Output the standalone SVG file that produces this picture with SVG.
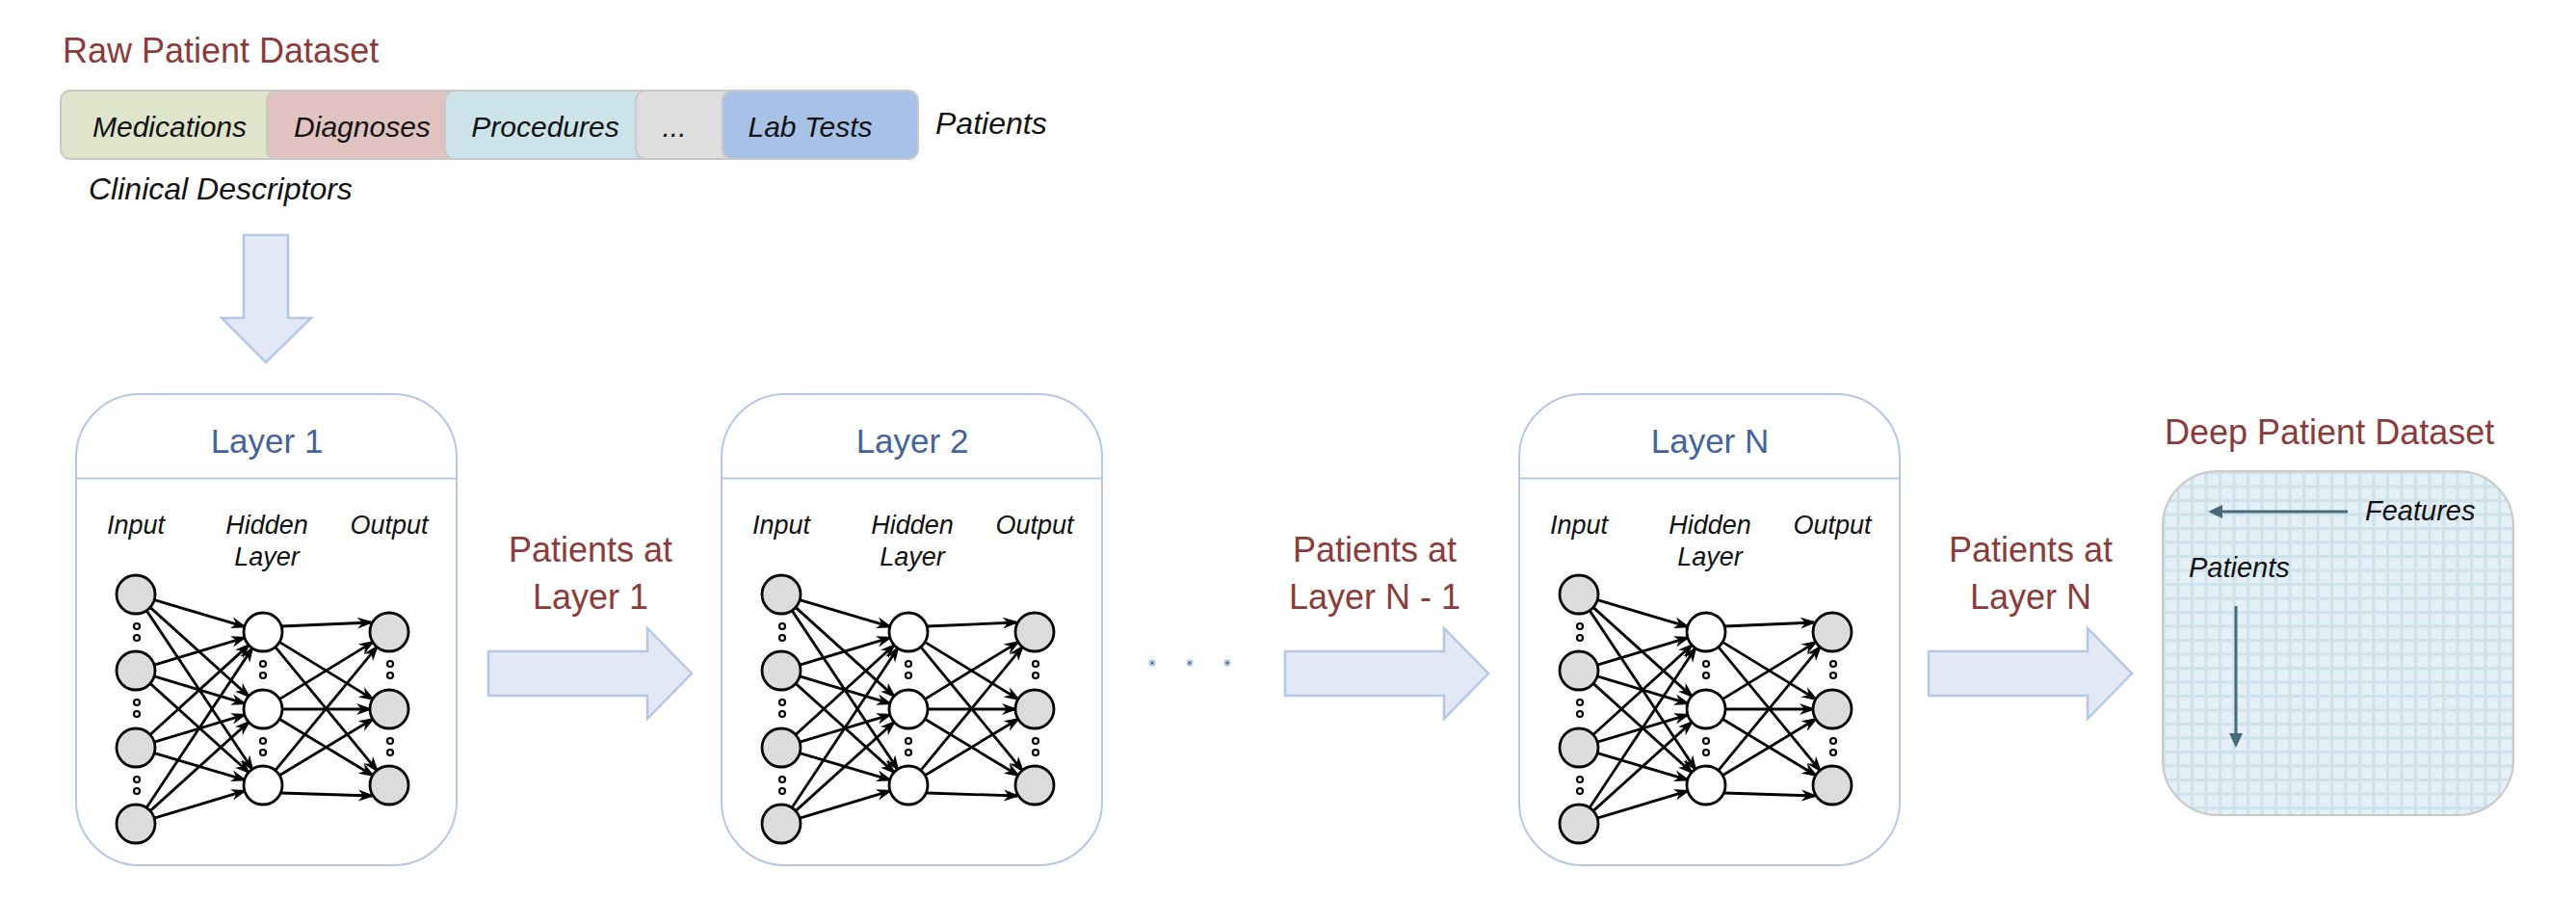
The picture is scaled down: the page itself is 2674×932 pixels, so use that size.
<svg xmlns="http://www.w3.org/2000/svg" xmlns:xlink="http://www.w3.org/1999/xlink" width="2674" height="932" viewBox="0 0 2674 932">
<style>
  text { font-family: "Liberation Sans", Arial, sans-serif; }
  .title { font-size: 36px; fill: #8a3b3a; }
  .lbl { font-size: 36px; fill: #8a3b3a; text-anchor: middle; }
  .seg { font-size: 30px; font-style: italic; fill: #111; text-anchor: middle; }
  .it { font-size: 32px; font-style: italic; fill: #111; }
  .ltitle { font-size: 35px; fill: #44639b; text-anchor: middle; }
  .nl { font-size: 27px; font-style: italic; fill: #111; text-anchor: middle; }
  .box { fill: #ffffff; stroke: #b4c7e7; stroke-width: 2; }
  .div { stroke: #b4c7e7; stroke-width: 2; }
  .barrow { fill: #e2e9f4; stroke: #b4c7e7; stroke-width: 2.5; stroke-linejoin: miter; }
  .segbox { stroke: #c9c9c9; stroke-width: 2; }
  .e { stroke: #000; stroke-width: 2.8; fill: none; marker-end: url(#ah); }
  .gn { fill: #dcdcdc; stroke: #000; stroke-width: 2.8; }
  .wn { fill: #ffffff; stroke: #000; stroke-width: 2.8; }
  .dot { fill: #ffffff; stroke: #000; stroke-width: 2.2; }
  .dp { stroke: #47697a; stroke-width: 3; fill: none; }
</style>
<defs>
  <marker id="ah" markerUnits="userSpaceOnUse" markerWidth="18" markerHeight="13" refX="14" refY="6" orient="auto" viewBox="0 0 18 12">
    <path d="M0,0 L17,6 L0,12 L5,6 Z" fill="#000"/>
  </marker>
  <pattern id="grid" patternUnits="userSpaceOnUse" x="2245" y="489" width="14.5" height="14.5">
    <rect x="0" y="0" width="14.5" height="14.5" fill="#cde2eb"/>
    <rect x="3" y="3" width="11.5" height="11.5" fill="#e4eff6"/>
  </pattern>
  <g id="net">
    <path class="e" d="M160.2,622.7 L253.8,650.3"/>
    <path class="e" d="M155.9,630.4 L258.1,722.6"/>
    <path class="e" d="M152.1,633.6 L261.9,798.4"/>
    <path class="e" d="M160.1,690.2 L253.9,661.8"/>
    <path class="e" d="M160.1,701.8 L253.9,730.2"/>
    <path class="e" d="M155.9,709.4 L258.1,801.6"/>
    <path class="e" d="M155.8,762.5 L258.2,669.5"/>
    <path class="e" d="M160.1,770.2 L253.9,741.8"/>
    <path class="e" d="M160.2,781.7 L253.8,809.3"/>
    <path class="e" d="M152.1,838.3 L261.9,672.7"/>
    <path class="e" d="M155.9,841.6 L258.1,749.4"/>
    <path class="e" d="M160.1,849.2 L253.9,820.8"/>
    <path class="e" d="M292,650 L385,646"/>
    <path class="e" d="M290.1,666.4 L386.9,725.6"/>
    <path class="e" d="M285.7,671.4 L391.3,799.6"/>
    <path class="e" d="M290.1,725.6 L386.9,666.4"/>
    <path class="e" d="M293,736 L384,736"/>
    <path class="e" d="M290.1,746.3 L386.9,804.7"/>
    <path class="e" d="M285.7,799.6 L391.3,671.4"/>
    <path class="e" d="M290.1,804.7 L386.9,746.3"/>
    <path class="e" d="M292,823 L386,826"/>
    <circle class="gn" cx="141" cy="617" r="20"/>
    <circle class="gn" cx="141" cy="696" r="20"/>
    <circle class="gn" cx="141" cy="776" r="20"/>
    <circle class="gn" cx="141" cy="855" r="20"/>
    <circle class="wn" cx="273" cy="656" r="20"/>
    <circle class="wn" cx="273" cy="736" r="20"/>
    <circle class="wn" cx="273" cy="815" r="20"/>
    <circle class="gn" cx="404" cy="656" r="20"/>
    <circle class="gn" cx="404" cy="736" r="20"/>
    <circle class="gn" cx="404" cy="815" r="20"/>
    <circle class="dot" cx="142" cy="650" r="3"/>
    <circle class="dot" cx="142" cy="662" r="3"/>
    <circle class="dot" cx="142" cy="729" r="3"/>
    <circle class="dot" cx="142" cy="741" r="3"/>
    <circle class="dot" cx="142" cy="809" r="3"/>
    <circle class="dot" cx="142" cy="821" r="3"/>
    <circle class="dot" cx="273" cy="689" r="3"/>
    <circle class="dot" cx="273" cy="701" r="3"/>
    <circle class="dot" cx="273" cy="769" r="3"/>
    <circle class="dot" cx="273" cy="781" r="3"/>
    <circle class="dot" cx="405" cy="689" r="3"/>
    <circle class="dot" cx="405" cy="701" r="3"/>
    <circle class="dot" cx="405" cy="769" r="3"/>
    <circle class="dot" cx="405" cy="781" r="3"/>
  </g>
</defs>

<g id="raw-dataset">
  <text class="title" x="65" y="65">Raw Patient Dataset</text>
  <rect class="segbox" x="63" y="94" width="235" height="71" rx="10" fill="#dfe5cb"/>
  <rect class="segbox" x="277" y="94" width="228" height="71" rx="10" fill="#e0c3c1"/>
  <rect class="segbox" x="462" y="94" width="229" height="71" rx="10" fill="#cce3ea"/>
  <rect class="segbox" x="660" y="94" width="200" height="71" rx="10" fill="#dedede"/>
  <rect class="segbox" x="750" y="94" width="203" height="71" rx="10" fill="#a8c1e6"/>
  <text class="seg" x="176" y="142">Medications</text>
  <text class="seg" x="376" y="142">Diagnoses</text>
  <text class="seg" x="566" y="142">Procedures</text>
  <text class="seg" x="700" y="142">...</text>
  <text class="seg" x="841" y="142">Lab Tests</text>
  <text class="it" x="971" y="139">Patients</text>
  <text class="it" x="92" y="207">Clinical Descriptors</text>
</g>

<g id="layer-1">
  <rect class="box" x="79" y="409" width="395" height="489" rx="66"/>
  <line class="div" x1="79" y1="496.5" x2="474" y2="496.5"/>
  <text class="ltitle" x="277" y="470">Layer 1</text>
  <text class="nl" x="141" y="554">Input</text>
  <text class="nl" x="277" y="554">Hidden</text>
  <text class="nl" x="277" y="587">Layer</text>
  <text class="nl" x="404" y="554">Output</text>
  <use xlink:href="#net"/>
</g>

<g id="layer-2" transform="translate(670,0)">
  <rect class="box" x="79" y="409" width="395" height="489" rx="66"/>
  <line class="div" x1="79" y1="496.5" x2="474" y2="496.5"/>
  <text class="ltitle" x="277" y="470">Layer 2</text>
  <text class="nl" x="141" y="554">Input</text>
  <text class="nl" x="277" y="554">Hidden</text>
  <text class="nl" x="277" y="587">Layer</text>
  <text class="nl" x="404" y="554">Output</text>
  <use xlink:href="#net"/>
</g>

<g id="layer-n" transform="translate(1498,0)">
  <rect class="box" x="79" y="409" width="395" height="489" rx="66"/>
  <line class="div" x1="79" y1="496.5" x2="474" y2="496.5"/>
  <text class="ltitle" x="277" y="470">Layer N</text>
  <text class="nl" x="141" y="554">Input</text>
  <text class="nl" x="277" y="554">Hidden</text>
  <text class="nl" x="277" y="587">Layer</text>
  <text class="nl" x="404" y="554">Output</text>
  <use xlink:href="#net"/>
</g>

<g id="ellipsis">
  <circle cx="1196" cy="688" r="2.2" fill="#1f2a3a" stroke="#a9bfe0" stroke-width="2.5"/>
  <circle cx="1235" cy="688" r="2.2" fill="#1f2a3a" stroke="#a9bfe0" stroke-width="2.5"/>
  <circle cx="1274" cy="688" r="2.2" fill="#1f2a3a" stroke="#a9bfe0" stroke-width="2.5"/>
</g>

<g id="deep-dataset">
  <text class="title" x="2247" y="461">Deep Patient Dataset</text>
  <rect x="2245" y="489" width="364" height="357" rx="57" fill="url(#grid)" stroke="#c8c8c8" stroke-width="2"/>
  <line class="dp" x1="2437" y1="531" x2="2304" y2="531"/>
  <polygon points="2292,531 2307,524 2307,538" fill="#47697a"/>
  <text class="nl" style="text-anchor:start;font-size:29px" x="2455" y="540">Features</text>
  <text class="nl" style="text-anchor:start;font-size:29px" x="2272" y="599">Patients</text>
  <line class="dp" x1="2321" y1="629" x2="2321" y2="764"/>
  <polygon points="2321,776 2314,761 2328,761" fill="#47697a"/>
</g>

<g id="connectors">
  <polygon class="barrow" points="253,244 299,244 299,330 323,330 276,376 230,330 253,330"/>
  <polygon class="barrow" points="507,676 672,676 672,652 718,699 672,746 672,722 507,722"/>
  <polygon class="barrow" points="1334,676 1499,676 1499,652 1545,699 1499,746 1499,722 1334,722"/>
  <polygon class="barrow" points="2002,676 2167,676 2167,652 2213,699 2167,746 2167,722 2002,722"/>
  <text class="lbl" x="613" y="583">Patients at</text>
  <text class="lbl" x="613" y="632">Layer 1</text>
  <text class="lbl" x="1427" y="583">Patients at</text>
  <text class="lbl" x="1427" y="632">Layer N - 1</text>
  <text class="lbl" x="2108" y="583">Patients at</text>
  <text class="lbl" x="2108" y="632">Layer N</text>
</g>
</svg>
